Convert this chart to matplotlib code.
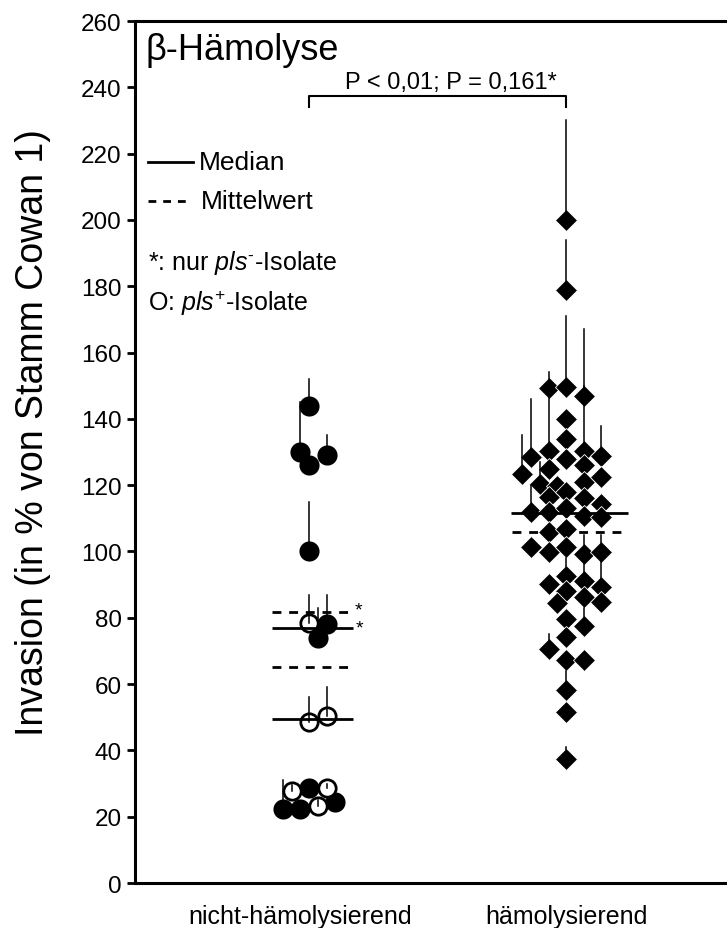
import matplotlib.pyplot as plt

plt.rcParams['font.family'] = ['Liberation Sans', 'DejaVu Sans']
plt.rcParams['mathtext.fontset'] = 'custom'
plt.rcParams['mathtext.rm'] = 'Liberation Sans'
plt.rcParams['mathtext.it'] = 'Liberation Sans:italic'

categories = ['nicht-hämolysierend', 'hämolysierend']

# nicht-hämolysierend: pls- Isolate (gefüllte Kreise)
neg_values = [144, 130, 126, 129, 100, 78, 74, 28.6, 22.3, 22.3, 24.4]
neg_err_top = [152, 145, None, 135, 115, 87, 83, None, 31, None, None]
# nicht-hämolysierend: pls+ Isolate (offene Kreise)
pos_values = [78.4, 48.5, 50.4, 27.7, 28.6, 23.2]
pos_err_top = [87, 56, 59, 29.5, 30, 25]

# hämolysierend (Rauten)
haem_values = [200, 179, 149.3, 149.6, 147, 140, 134, 128.5, 130.3, 128, 130.3, 128.8,
               123.4, 125, 126, 120.4, 119.8, 116.4, 118, 121, 122.5, 116, 114.3,
               112, 112, 113, 110.7, 110.4, 106, 106.8, 101.4, 99.8, 101.4, 99.3, 99.8,
               90.2, 92.6, 88, 91, 89.3, 86.3, 84.8, 84.5, 79.6, 77.5, 74.2, 70.6,
               67.3, 67.3, 58.2, 51.6, 37.4]
haem_err_top = [230, 194, None, 171, 167, None, None, 146, 154, None, 150, 138,
                135, None, None, 127, None, None, None, None, None, None, None,
                120, None, None, None, None, None, None, None, None, None, None, None,
                None, 98, None, 105, 105, None, None, None, None, 83, None, 75,
                None, None, 64, None, 41]

# Median / Mittelwert
neg_median, neg_mean = 76.9, 81.8      # nur pls- Isolate
left_median, left_mean = 49.4, 65.2
haem_median, haem_mean = 111.6, 106.0

# swarm columns (in units of one marker step)
neg_cols = [0, -0.5, 0, 1, 0, 1, 0.5, 0, -1.5, -0.5, 1.5]
pos_cols = [0, 0, 1, -1, 1, 0.5]
haem_cols = [0, 0, -1, 0, 1, 0, 0, -2, -1, 0, 1, 2,
             -2.5, -1, 1, -1.5, -0.5, -1, 0, 1, 2, 1, 2,
             -2, -1, 0, 1, 2, -1, 0, -2, -1, 0, 1, 2,
             -1, 0, 0, 1, 2, 1, 2, -0.5, 0, 1, 0, -1,
             0, 1, 0, 0, 0]
step = 0.068
dash = (0, (3.2, 2.8))

fig = plt.figure(figsize=(7.27, 9.29), dpi=100)
ax = fig.add_axes([0.1857, 0.0484, 0.8143, 0.9279])


def draw_group(center, values, errs, cols, **mk):
    xs = [center + c * step for c in cols]
    ax.plot(xs, values, linestyle='none', zorder=3, **mk)
    for x, v, e in zip(xs, values, errs):
        if e is not None:
            ax.plot([x, x], [v, e], color='black', lw=1.1, zorder=4)


draw_group(1, neg_values, neg_err_top, neg_cols, marker='o', ms=14.5,
           mfc='black', mec='black', mew=0)
draw_group(1, pos_values, pos_err_top, pos_cols, marker='o', ms=12.5,
           mfc='white', mec='black', mew=2)
draw_group(2, haem_values, haem_err_top, haem_cols, marker='D', ms=10.8,
           mfc='black', mec='white', mew=0.6)

# Median (solid) and Mittelwert (dashed)
ax.hlines([neg_median, left_median], 0.856, 1.171, color='black', lw=2, zorder=5)
ax.hlines([neg_mean, left_mean], 0.856, 1.167, color='black', lw=2,
          linestyles=dash, zorder=5)
ax.hlines(haem_median, 1.786, 2.241, color='black', lw=2, zorder=5)
ax.hlines(haem_mean, 1.79, 2.222, color='black', lw=2, linestyles=dash, zorder=5)
ax.text(1.178, neg_mean + 0.6, '*', fontsize=14, ha='left', va='center')
ax.text(1.18, neg_median + 0.0, '*', fontsize=14, ha='left', va='center')

# significance bracket
ax.plot([1, 1, 2, 2], [234, 237.4, 237.4, 234], color='black', lw=1.5)
ax.text(1.55, 238.3, 'P < 0,01; P = 0,161*', fontsize=17, ha='center', va='bottom')

# title and legend text
ax.text(0.017, 0.9675, 'β-Hämolyse', transform=ax.transAxes, fontsize=26,
        ha='left', va='center')
ax.plot([0.022, 0.098], [0.8364, 0.8364], transform=ax.transAxes, color='black', lw=2)
ax.text(0.108, 0.8364, 'Median', transform=ax.transAxes, fontsize=19, va='center')
ax.plot([0.022, 0.094], [0.7912, 0.7912], transform=ax.transAxes, color='black', lw=2,
        linestyle=(0, (2.8, 2.5)))
ax.text(0.111, 0.7912, 'Mittelwert', transform=ax.transAxes, fontsize=19, va='center')
ax.text(0.022, 0.7204, '*: nur $\\mathit{pls}^{\u2010}$-Isolate', transform=ax.transAxes,
        fontsize=18, va='center')
ax.text(0.022, 0.674, r'O: $\mathit{pls}^{+}$-Isolate', transform=ax.transAxes,
        fontsize=18, va='center')

ax.set_xlim(0.323, 2.626)
ax.set_ylim(0, 260)
ax.set_yticks(range(0, 261, 20))
ax.set_xticks([0.965, 2.0])
ax.set_xticklabels(categories)
ax.tick_params(axis='y', labelsize=17.5, length=6, width=2, direction='out')
ax.tick_params(axis='x', labelsize=18, length=0, pad=15)
ax.set_ylabel('Invasion (in % von Stamm Cowan 1)', fontsize=27)
ax.yaxis.set_label_coords(-0.142, 0.524)
for side in ['left', 'bottom', 'top']:
    ax.spines[side].set_linewidth(2.2)
ax.spines['right'].set_visible(False)

fig.savefig('out.png', dpi=100)
